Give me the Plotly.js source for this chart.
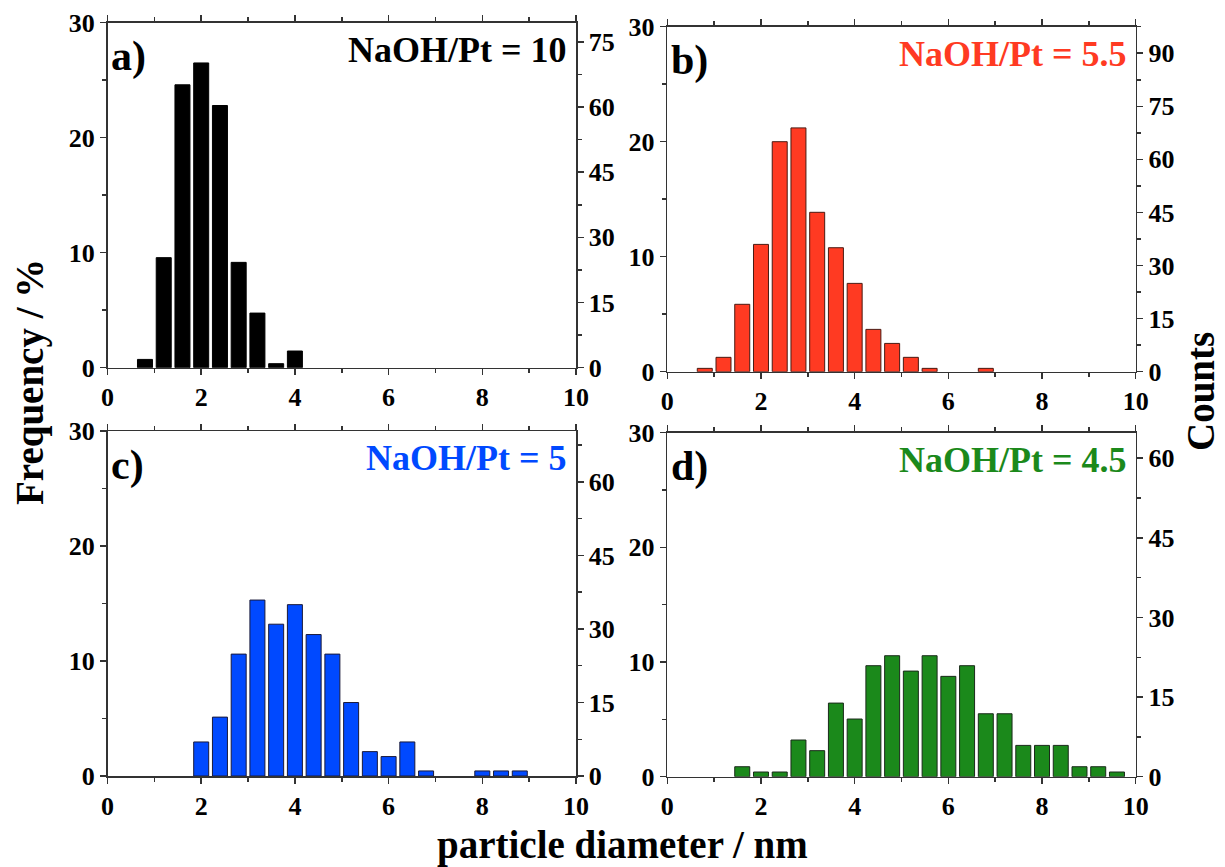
<!DOCTYPE html>
<html>
<head>
<meta charset="utf-8">
<script src="https://cdn.plot.ly/plotly-3.0.1.min.js"></script>
<style>html,body{margin:0;padding:0;background:#fff;}#chart{width:1225px;height:867px;}</style>
</head>
<body>
<div id="chart"></div>
<script>
// ---- data ----
const diamA = [0.8, 1.2, 1.6, 2.0, 2.4, 2.8, 3.2, 3.6, 4.0];
const freqA = [0.72, 9.57, 24.6, 26.5, 22.8, 9.16, 4.75, 0.35, 1.45];

const diamB = [0.8, 1.2, 1.6, 2.0, 2.4, 2.8, 3.2, 3.6, 4.0, 4.4, 4.8, 5.2, 5.6, 6.8];
const freqB = [0.29, 1.25, 5.86, 11.07, 20.0, 21.2, 13.86, 10.78, 7.68, 3.68, 2.46, 1.25, 0.29, 0.29];

const diamC = [2.0, 2.4, 2.8, 3.2, 3.6, 4.0, 4.4, 4.8, 5.2, 5.6, 6.0, 6.4, 6.8, 8.0, 8.4, 8.8];
const freqC = [2.96, 5.12, 10.6, 15.3, 13.2, 14.9, 12.3, 10.6, 6.39, 2.12, 1.69, 2.96, 0.44, 0.44, 0.44, 0.44];

const diamD = [1.6, 2.0, 2.4, 2.8, 3.2, 3.6, 4.0, 4.4, 4.8, 5.2, 5.6, 6.0, 6.4, 6.8, 7.2, 7.6, 8.0, 8.4, 8.8, 9.2, 9.6];
const freqD = [0.87, 0.41, 0.41, 3.2, 2.27, 6.42, 5.03, 9.68, 10.55, 9.21, 10.55, 8.75, 9.68, 5.49, 5.49, 2.73, 2.73, 2.73, 0.87, 0.87, 0.41];

const panelTags = ['a)', 'b)', 'c)', 'd)'];
const panelLabels = ['NaOH/Pt = 10', 'NaOH/Pt = 5.5', 'NaOH/Pt = 5', 'NaOH/Pt = 4.5'];
const countsTop = [79.4, 97.5, 70.4, 64.8]; // counts value matching 30 % on each panel

const xTitle = 'particle diameter / nm';
const yTitle = 'Frequency / %';
const y2Title = 'Counts';

// ---- styling ----
const colors = ['#000000', '#FF3A22', '#0049FF', '#1B891B'];
const outlines = ['#000000', '#4a1a12', '#1a1a3a', '#1a2a1a'];
const FONT = 'Liberation Serif, Times New Roman, serif';
const axCol = '#333333';
const W = 1225, H = 867;

const xDom = [[107.5, 576], [667.3, 1135.7], [107.5, 576], [667.3, 1135.7]];
const yDom = [[22.7, 367.7], [26.7, 371.7], [431, 776], [432.7, 776.7]];

const diams = [diamA, diamB, diamC, diamD];
const freqs = [freqA, freqB, freqC, freqD];

const data = [];
const layout = {
  width: W, height: H,
  margin: {l: 0, r: 0, t: 0, b: 0},
  paper_bgcolor: '#fff', plot_bgcolor: 'rgba(0,0,0,0)',
  showlegend: false,
  bargap: 0,
  font: {family: FONT, color: '#000', weight: 'bold'},
  annotations: []
};

const tickFont = {family: FONT, size: 26, color: '#000', weight: 'bold'};

for (let i = 0; i < 4; i++) {
  const n = i + 1;
  const xk = n === 1 ? 'x' : 'x' + n;
  const yk = n === 1 ? 'y' : 'y' + n;
  const y2k = 'y' + (n + 4);
  data.push({
    type: 'bar', x: diams[i], y: freqs[i], width: 0.32,
    xaxis: xk, yaxis: yk,
    marker: {color: colors[i], line: {color: outlines[i], width: 1}},
    hoverinfo: 'x+y'
  });
  data.push({type: 'scatter', x: [], y: [], xaxis: xk, yaxis: y2k, mode: 'markers', hoverinfo: 'skip'});

  layout[n === 1 ? 'xaxis' : 'xaxis' + n] = {
    domain: [xDom[i][0] / W, xDom[i][1] / W],
    anchor: yk, range: [0, 10], dtick: 2, tick0: 0,
    showgrid: false, zeroline: false,
    showline: true, linecolor: axCol, linewidth: 1.5,
    mirror: 'ticks', ticks: 'outside', ticklen: 6, tickwidth: 1.5, tickcolor: axCol,
    minor: {dtick: 1, tick0: 0, ticks: 'outside', ticklen: 4, tickwidth: 1.5, tickcolor: axCol, showgrid: false},
    tickfont: tickFont, fixedrange: true
  };
  layout[n === 1 ? 'yaxis' : 'yaxis' + n] = {
    domain: [1 - yDom[i][1] / H, 1 - yDom[i][0] / H],
    anchor: xk, range: [0, 30], dtick: 10, tick0: 0,
    showgrid: false, zeroline: false,
    showline: true, linecolor: axCol, linewidth: 1.5,
    ticks: 'outside', ticklen: 6, tickwidth: 1.5, tickcolor: axCol,
    minor: {dtick: 5, tick0: 0, ticks: 'outside', ticklen: 4, tickwidth: 1.5, tickcolor: axCol, showgrid: false},
    tickfont: tickFont, fixedrange: true
  };
  layout['yaxis' + (n + 4)] = {
    overlaying: yk, side: 'right', anchor: xk,
    range: [0, countsTop[i]], dtick: 15, tick0: 0,
    showgrid: false, zeroline: false,
    showline: true, linecolor: axCol, linewidth: 1.5,
    ticks: 'outside', ticklen: 6, tickwidth: 1.5, tickcolor: axCol,
    minor: {dtick: 7.5, tick0: 0, ticks: 'outside', ticklen: 4, tickwidth: 1.5, tickcolor: axCol, showgrid: false},
    tickfont: tickFont, fixedrange: true
  };

  layout.annotations.push({
    text: panelTags[i], xref: xk + ' domain', yref: yk + ' domain',
    x: 0.004, y: 0.975, xanchor: 'left', yanchor: 'top', showarrow: false,
    font: {family: FONT, size: 42, color: '#000', weight: 'bold'}
  });
  layout.annotations.push({
    text: panelLabels[i], xref: xk + ' domain', yref: yk + ' domain',
    x: 0.985, y: 0.985, xanchor: 'right', yanchor: 'top', showarrow: false,
    font: {family: FONT, size: 36, color: colors[i], weight: 'bold'}
  });
}

layout.annotations.push({
  text: xTitle, xref: 'paper', yref: 'paper',
  x: 622 / W, y: 1 - 845 / H, xanchor: 'center', yanchor: 'middle', showarrow: false,
  font: {family: FONT, size: 39, color: '#000', weight: 'bold'}
});
layout.annotations.push({
  text: yTitle, xref: 'paper', yref: 'paper', textangle: -90,
  x: 30 / W, y: 1 - 382 / H, xanchor: 'center', yanchor: 'middle', showarrow: false,
  font: {family: FONT, size: 39, color: '#000', weight: 'bold'}
});
layout.annotations.push({
  text: y2Title, xref: 'paper', yref: 'paper', textangle: -90,
  x: 1200 / W, y: 1 - 392 / H, xanchor: 'center', yanchor: 'middle', showarrow: false,
  font: {family: FONT, size: 39, color: '#000', weight: 'bold'}
});

Plotly.newPlot('chart', data, layout, {staticPlot: true, displayModeBar: false});
</script>
</body>
</html>
